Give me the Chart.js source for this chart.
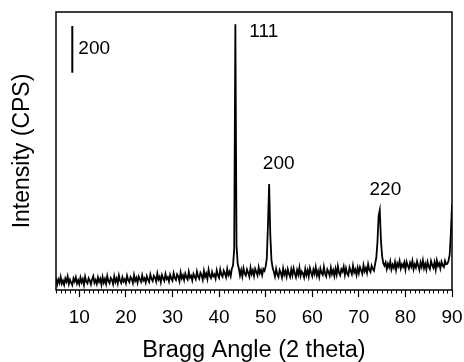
<!DOCTYPE html>
<html>
<head>
<meta charset="utf-8">
<script src="https://cdn.jsdelivr.net/npm/chart.js@4"></script>
<style>
  html, body { margin: 0; padding: 0; background: #ffffff; }
  #wrap { width: 464px; height: 362px; }
</style>
</head>
<body>
<div id="wrap"><canvas id="c" width="464" height="362"></canvas></div>
<script>
// ---- Data ----
const startAngle = 5;      // 2-theta of first sample (deg)
const angleStep = 0.25;    // sampling step (deg)
const intensity = [
  52, 24, 45, 30, 56, 27, 40, 22, 49, 35, 58, 26, 44, 31, 21, 50, 37, 55, 28, 42,
  25, 53, 33, 47, 22, 57, 36, 28, 51, 41, 24, 46, 59, 30, 43, 26, 54, 35, 48, 23,
  55, 31, 47, 26, 60, 38, 29, 52, 44, 25, 58, 34, 49, 28, 62, 40, 30, 54, 36, 46,
  29, 61, 42, 33, 56, 48, 30, 64, 39, 52, 31, 58, 45, 35, 63, 41, 50, 32, 59, 44,
  34, 66, 48, 38, 61, 53, 36, 70, 45, 57, 33, 64, 50, 39, 68, 47, 55, 37, 65, 49,
  40, 72, 52, 43, 67, 58, 38, 75, 50, 63, 42, 70, 55, 45, 78, 53, 61, 41, 69, 57,
  46, 79, 58, 48, 74, 64, 44, 82, 56, 70, 47, 86, 61, 51, 77, 59, 67, 49, 84, 63,
  52, 88, 66, 57, 83, 71, 55, 90, 64, 79, 60, 92, 105, 175, 1138, 190, 112, 92, 62, 85,
  58, 93, 70, 62, 88, 74, 57, 95, 68, 84, 60, 91, 77, 63, 97, 72, 86, 64, 90, 82,
  100, 135, 280, 454, 235, 128, 95, 78, 58, 90, 67, 56, 86, 74, 54, 92, 65, 81, 57, 89,
  70, 56, 88, 63, 93, 72, 55, 85, 66, 96, 60, 79, 71, 54, 90, 64, 84, 58, 94, 75,
  59, 87, 69, 98, 62, 81, 56, 92, 73, 64, 99, 70, 58, 88, 77, 61, 95, 68, 84, 60,
  91, 66, 102, 74, 63, 89, 79, 100, 65, 93, 70, 62, 97, 82, 68, 104, 75, 88, 64, 95,
  72, 98, 84, 69, 106, 80, 94, 73, 110, 86, 77, 104, 90, 82, 112, 138, 205, 318, 342, 212,
  145, 115, 104, 118, 90, 112, 97, 122, 88, 108, 95, 120, 86, 114, 101, 124, 92, 110, 99, 118,
  87, 121, 105, 92, 116, 100, 125, 89, 110, 96, 123, 104, 86, 118, 99, 127, 93, 112, 88, 120,
  101, 90, 124, 106, 95, 119, 88, 126, 103, 114, 92, 121, 105, 98, 125, 110, 112, 125, 150, 240,
  364
];
const xTickValues = [10, 20, 30, 40, 50, 60, 70, 80, 90];
const xMin = 5, xMax = 90;
const yMin = 0, yMax = 1190;

// Peak annotations (Miller indices) placed in data coordinates
const peakLabels = ['111', '200', '220'];
const peakLabelAngles = [49.6, 52.8, 75.7];
const peakLabelCps = [1106, 542, 429];

// Intensity scale bar (200 CPS)
const scaleBarText = '200';
const scaleBarAngle = 8.5;
const scaleBarFrom = 930;
const scaleBarTo = 1130;
const scaleBarTextAngle = 13.2;
const scaleBarTextCps = 1032;

// ---- Build points ----
const points = intensity.map((v, i) => ({ x: startAngle + i * angleStep, y: v }));

const FONT = '"Liberation Sans", Arial, Helvetica, sans-serif';

const decorPlugin = {
  id: 'decor',
  afterDatasetsDraw(chart) {
    const { ctx, chartArea: a, scales } = chart;
    const xs = scales.x, ys = scales.y;
    ctx.save();
    // frame
    ctx.strokeStyle = '#000';
    ctx.lineWidth = 1.5;
    ctx.strokeRect(a.left, a.top, a.right - a.left, a.bottom - a.top);
    // minor ticks every 1 degree
    ctx.lineWidth = 1;
    ctx.beginPath();
    for (let d = xMin; d <= xMax; d++) {
      if (d % 10 === 0) continue;
      const px = Math.round(xs.getPixelForValue(d)) + 0.5;
      ctx.moveTo(px, a.bottom);
      ctx.lineTo(px, a.bottom + 3.5);
    }
    ctx.stroke();
    // scale bar
    ctx.lineWidth = 2;
    ctx.beginPath();
    const bx = xs.getPixelForValue(scaleBarAngle);
    ctx.moveTo(bx, ys.getPixelForValue(scaleBarFrom));
    ctx.lineTo(bx, ys.getPixelForValue(scaleBarTo));
    ctx.stroke();
    // texts
    ctx.fillStyle = '#000';
    ctx.font = '19px ' + FONT;
    ctx.textAlign = 'center';
    ctx.textBaseline = 'middle';
    ctx.fillText(scaleBarText, xs.getPixelForValue(scaleBarTextAngle), ys.getPixelForValue(scaleBarTextCps));
    peakLabels.forEach((t, i) => {
      ctx.fillText(t, xs.getPixelForValue(peakLabelAngles[i]), ys.getPixelForValue(peakLabelCps[i]));
    });
    ctx.restore();
  }
};

new Chart(document.getElementById('c'), {
  type: 'line',
  data: {
    datasets: [{
      data: points,
      borderColor: '#000',
      borderWidth: 1.8,
      pointRadius: 0,
      tension: 0,
      fill: false
    }]
  },
  options: {
    responsive: false,
    animation: false,
    devicePixelRatio: 1,
    layout: { padding: { top: 12, right: 12, left: 0, bottom: 0 } },
    plugins: { legend: { display: false }, tooltip: { enabled: false } },
    scales: {
      x: {
        type: 'linear',
        min: xMin,
        max: xMax,
        afterBuildTicks: (s) => { s.ticks = xTickValues.map(v => ({ value: v })); },
        afterFit: (s) => { s.height = 72; s.paddingLeft = 0; s.paddingRight = 0; },
        border: { display: false },
        grid: {
          display: true,
          drawOnChartArea: false,
          drawTicks: true,
          tickLength: 7,
          tickWidth: 1.2,
          tickColor: '#000'
        },
        ticks: {
          color: '#000',
          font: { family: FONT, size: 19 },
          padding: 9,
          maxRotation: 0,
          autoSkip: false
        },
        title: {
          display: true,
          text: 'Bragg Angle (2 theta)',
          color: '#000',
          font: { family: FONT, size: 23.5, lineHeight: 1 },
          padding: { top: 0, bottom: 0 }
        }
      },
      y: {
        type: 'linear',
        min: yMin,
        max: yMax,
        afterFit: (s) => { s.width = 56; },
        border: { display: false },
        grid: { display: false },
        ticks: { display: false },
        title: {
          display: true,
          text: 'Intensity (CPS)',
          color: '#000',
          font: { family: FONT, size: 23, lineHeight: 1 },
          padding: { top: 11.5, bottom: 0 }
        }
      }
    }
  },
  plugins: [decorPlugin]
});
</script>
</body>
</html>
